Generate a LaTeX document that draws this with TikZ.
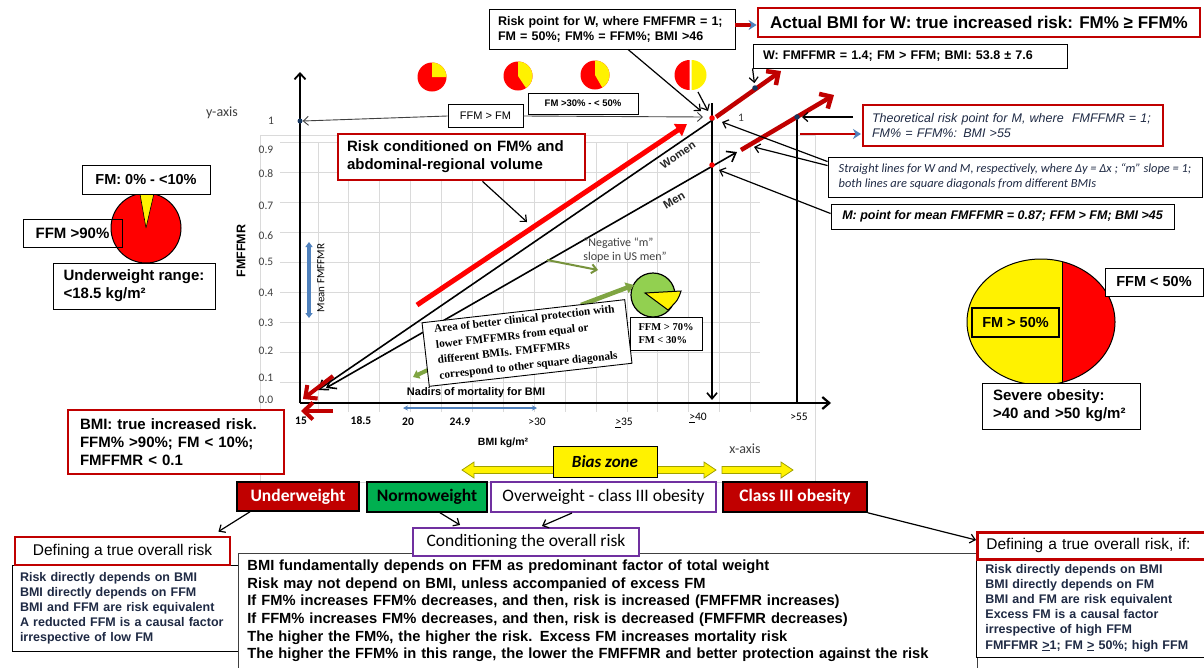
\documentclass[tikz,border=0pt]{standalone}
\usepackage{fontspec}
\setmainfont{Liberation Sans}
\newfontfamily\calib{Carlito}
\newfontfamily\tms{Liberation Serif}
\usetikzlibrary{arrows.meta}
\definecolor{dred}{HTML}{C00000}
\definecolor{purp}{HTML}{7030A0}
\definecolor{ngreen}{HTML}{00B050}
\definecolor{lgreen}{HTML}{92D050}
\definecolor{sblue}{HTML}{4F81BD}
\definecolor{gridc}{HTML}{DADADA}
\definecolor{navy}{HTML}{1F2A44}
\definecolor{ogreen}{HTML}{77933C}
\definecolor{dotb}{HTML}{17375E}
\definecolor{byel}{HTML}{A0A000}
\definecolor{axl}{HTML}{404040}
\newcommand{\fsz}[2]{\fontsize{#1}{#2}\selectfont}
\begin{document}
\begin{tikzpicture}[x=1pt,y=1pt,
  box/.style={draw=black, line width=0.9pt, fill=white, inner sep=0pt, align=left},
  rbox/.style={box, draw=dred, line width=2.8pt},
  pbox/.style={box, draw=purp, line width=2pt},
  cat/.style={draw=black, line width=1.5pt, inner sep=0pt, font=\calib\bfseries\fsz{17.5}{20}},
  conn/.style={draw=black, line width=1.2pt, -{Straight Barb[length=5pt,width=9pt]}},
  gconn/.style={draw=axl, line width=0.9pt, -{Straight Barb[length=5pt,width=9pt]}},
  dotn/.style={circle, inner sep=0pt, minimum size=5.5pt},
  redarr/.style={draw=dred, line width=4.5pt, -{Straight Barb[length=9pt,width=17pt]}},
  blkarr/.style={draw=black, line width=1.6pt},
  rbarr/.style={draw=dred, line width=3.5pt, -{Stealth[length=8pt,width=10pt,color=sblue]}},
  lab/.style={inner sep=0pt, font=\calib\fsz{11.5}{13}, text=axl},
  blab/.style={inner sep=0pt, font=\calib\bfseries\fsz{11.5}{13}, text=black},
]
\fill[white] (0,0) rectangle (1204,-667);
\useasboundingbox (0,0) rectangle (1204,-667);

% chart frame and grid
\draw[gridc, line width=0.8pt] (260,-135) rectangle (815,-482);
\foreach \yy in {142,172,...,382} \draw[gridc, line width=0.8pt] (280,-\yy) -- (760,-\yy);
\foreach \k in {1,...,15} \draw[gridc, line width=0.8pt] ({287+30.9*\k},-142) -- ({287+30.9*\k},-412);

% axis labels
\foreach \yy/\t [count=\i] in {150/0.9,174/0.8,206/0.7,236/0.6,262/0.5,293/0.4,323/0.3,351/0.2,378/0.1,400/0.0}
  \node[lab] (yl\i) at (266,-\yy) {\t};
\node[lab] (yone) at (271,-121) {1};
\node[lab, font=\calib\fsz{14}{16}] (yax) at (222,-113) {y-axis};
\node[lab, font=\calib\fsz{14}{16}] (xax) at (745,-449) {x-axis};
\node[inner sep=0pt, rotate=90, font=\bfseries\fsz{12.5}{14}] (fmlab) at (241,-251) {FMFFMR};
\node[blab] (x15) at (301,-421) {15};
\node[blab] (x185) at (361,-421) {18.5};
\node[blab] (x20) at (408,-422) {20};
\node[blab] (x249) at (460,-422) {24.9};
\node[lab, text=black] (x30) at (537,-422) {>30};
\node[lab, text=black] (x35) at (624,-423) {\underline{>}35};
\node[lab, text=black] (x40) at (698,-418) {\underline{>}40};
\node[lab, text=black] (x55) at (799,-417) {>55};
\node[inner sep=0pt, font=\bfseries\fsz{10.5}{12}] (bmil) at (503,-443) {BMI kg/m²};

% axes
\coordinate (O) at (300,-403);
\coordinate (Ytip) at (300,-72);
\coordinate (Xtip) at (831,-403);
\draw[line width=1.8pt, -{Straight Barb[length=6pt,width=11pt]}] (O) -- (Ytip);
\draw[line width=2.2pt, -{Straight Barb[length=7pt,width=12pt]}] (O) -- (Xtip);

% vertical lines
\coordinate (v1a) at (712,-103); \coordinate (v1b) at (712,-400);
\coordinate (v2a) at (797,-117); \coordinate (v2b) at (797,-402);
\draw[blkarr, -{Straight Barb[length=6pt,width=10pt]}] (v1a) -- (v1b);
\draw[blkarr] (v2a) -- (v2b);

% women and men lines
\coordinate (wTop) at (714,-119); \coordinate (wEnd) at (318,-390);
\coordinate (mTop) at (737,-152); \coordinate (mEnd) at (326,-388);
\draw[blkarr, -{Straight Barb[length=8pt,width=12pt]}] (wTop) -- (wEnd);
\draw[blkarr, {Straight Barb[length=8pt,width=12pt]}-{Straight Barb[length=8pt,width=12pt]}] (mTop) -- (mEnd);

% red arrows
\coordinate (wr0) at (716,-117); \coordinate (wr1) at (781,-71);
\coordinate (mr0) at (741,-150); \coordinate (mr1) at (834,-95);
\draw[redarr] (wr0) -- (wr1);
\draw[redarr] (mr0) -- (mr1);
\coordinate (oa1) at (333,-376); \coordinate (oa2) at (303,-399);
\coordinate (ob1) at (333,-411); \coordinate (ob2) at (301,-411);
\draw[redarr, line width=4pt] (oa1) -- (oa2);
\draw[redarr, line width=4pt] (ob1) -- (ob2);
\coordinate (sA) at (417,-305); \coordinate (sB) at (687,-124);
\draw[draw=red, line width=5pt, -{Triangle[length=11pt,width=14pt]}] (sA) -- (sB);

% dots
\node[dotn, fill=red] (Wpt) at (712,-118) {};
\node[dotn, fill=red] (Mpt) at (712,-165) {};
\node[dotn, fill=dotb] (Wdot) at (755,-88) {};
\node[dotn, fill=dotb] (Mdot) at (797,-117) {};
\node[dotn, fill=dotb, minimum size=5pt] (Ydot) at (300,-121) {};
\node[lab] (wone) at (741,-118) {1};
\node[inner sep=0pt, rotate=34, font=\bfseries\fsz{11}{12}, text=black!85] (women) at (678,-155) {Women};
\node[inner sep=0pt, rotate=30, font=\bfseries\fsz{11.5}{12}, text=black!85] (men) at (674,-200) {Men};

% top pies
\fill[red] (432,-77) circle[radius=14.5];
\fill[yellow] (432,-77) -- ++(0,14.5) arc[start angle=90,end angle=0,radius=14.5] -- cycle;
\fill[red] (518,-76) circle[radius=14.5];
\fill[yellow] (518,-76) -- ++(0,14.5) arc[start angle=90,end angle=-56,radius=14.5] -- cycle;
\fill[red] (595,-75) circle[radius=14.5];
\fill[yellow] (595,-75) -- ++(0,14.5) arc[start angle=90,end angle=-60,radius=14.5] -- cycle;
\fill[red] (689.5,-75) -- ++(0,15) arc[start angle=90,end angle=270,radius=15] -- cycle;
\fill[yellow] (691.5,-75) -- ++(0,15) arc[start angle=90,end angle=-90,radius=15] -- cycle;
\coordinate (p4) at (698,-92);

% FFM > FM
\node[box, minimum width=75pt, minimum height=23pt, font=\fsz{11}{13}] (ffmfm) at (485.5,-116) {FFM > FM};
\coordinate (ffR) at (703,-117);
\draw[gconn] (ffmfm.west) -- (Ydot.east);
\draw[gconn] (ffmfm.east) -- (ffR);
\node[box, minimum width=110pt, minimum height=21pt, font=\bfseries\fsz{9.5}{11}] (fm3050) at (583,-103.5) {FM >30\% - < 50\%};

% top boxes
\node[box, minimum width=246pt, minimum height=40pt, text width=228pt, font=\bfseries\fsz{12.5}{15}] (riskW) at (612,-29) {Risk point for W, where FMFFMR = 1;\\FM = 50\%; FM\% = FFM\%; BMI >46};
\node[rbox, minimum width=442pt, minimum height=29pt, font=\bfseries\fsz{17}{20}] (actW) at (979,-22.5) {Actual BMI for W: true increased risk: FM\% ≥ FFM\%};
\node[box, minimum width=314pt, minimum height=24pt, text width=294pt, font=\bfseries\fsz{12.5}{15}] (wB) at (910,-56) {W: FMFFMR = 1.4; FM > FFM; BMI: 53.8 ± 7.6};
\node[rbox, minimum width=300pt, minimum height=41pt, text width=282pt, font=\itshape\fsz{12.5}{15}, text=navy] (theoM) at (1013,-125.5) {Theoretical risk point for M, where\ \ FMFFMR = 1;\\FM\% = FFM\%: BMI >55};
\node[box, minimum width=374pt, minimum height=40pt, font=\calib\itshape\fsz{12.4}{15}, text=navy] (strl) at (1015,-177) {Straight lines for W and M, respectively, where Δy = Δx ; “m” slope = 1;\\both lines are square diagonals from different BMIs};
\node[box, minimum width=343pt, minimum height=25pt, font=\bfseries\itshape\fsz{12.5}{15}] (mB) at (1002.5,-216.5) {M: point for mean FMFFMR = 0.87; FFM > FM; BMI >45};

% top connectors
\coordinate (wIn1) at (701,-111);
\coordinate (wIn2) at (708,-111);
\draw[conn] ([xshift=16pt]riskW.south) -- (wIn1);
\draw[conn] (p4) -- (wIn2);
\draw[rbarr] ([yshift=4pt]riskW.east) -- ([yshift=-2.5pt]actW.west);
\draw[conn, shorten >=2pt] (wB.south west) -- (Wdot);
\coordinate (tmS) at (853,-117);
\draw[conn, shorten >=2pt] (tmS) -- (Mdot);
\coordinate (rb1) at (800,-134); \coordinate (rb2) at (861,-134);
\draw[rbarr, line width=2.5pt] (rb1) -- (rb2);
\coordinate (s1) at (722,-122); \coordinate (s2) at (754,-147);
\draw[conn] ([yshift=-5pt]strl.north west) -- (s1);
\draw[conn] ([yshift=-9pt]strl.north west) -- (s2);
\coordinate (mIn) at (719,-170);
\draw[conn] ([yshift=3pt]mB.west) -- (mIn);

% risk conditioned
\node[rbox, minimum width=247pt, minimum height=46pt, text width=229pt, font=\bfseries\fsz{15}{18}] (riskC) at (461.5,-157) {Risk conditioned on FM\% and\\abdominal-regional volume};
\coordinate (rcT) at (527,-222);
\draw[conn] ([xshift=21pt]riskC.south) -- (rcT);

% left pie and boxes
\fill[red] (146,-228) circle[radius=35];
\fill[yellow] (146,-228) -- ++(77:35) arc[start angle=77,end angle=100,radius=35] -- cycle;
\draw[line width=0.6pt] (146,-228) -- ++(77:35) (146,-228) -- ++(100:35);
\draw[line width=1pt] (146,-228) circle[radius=35];
\node[box, minimum width=128pt, minimum height=29pt, font=\bfseries\fsz{14.5}{16}] (fm010) at (146,-179.5) {FM: 0\% - <10\%};
\node[box, fill=none, minimum width=99pt, minimum height=28pt, font=\bfseries\fsz{15}{17}] (ffm90) at (72.5,-233) {FFM >90\%};
\node[box, minimum width=162pt, minimum height=46pt, font=\bfseries\fsz{15}{18}] (uRange) at (134,-286) {Underweight range:\\<18.5 kg/m²};
\node[rbox, minimum width=216pt, minimum height=64pt, text width=192pt, font=\bfseries\fsz{15}{18}] (bmiR) at (176,-442) {BMI: true increased risk.\\FFM\% >90\%; FM < 10\%;\\FMFFMR < 0.1};

% blue arrows
\coordinate (nb1) at (403,-408); \coordinate (nb2) at (537,-408);
\draw[sblue, line width=1.2pt, {Stealth[length=5pt,width=5pt]}-{Stealth[length=5pt,width=5pt]}] (nb1) -- (nb2);
\coordinate (mb1) at (309,-242); \coordinate (mb2) at (309,-318);
\draw[sblue, line width=3.5pt, {Triangle[length=5pt,width=7pt]}-{Triangle[length=5pt,width=7pt]}] (mb1) -- (mb2);
\node[inner sep=0pt, rotate=90, font=\calib\fsz{11}{12}] (meanl) at (321,-278) {Mean FMFFMR};
\node[inner sep=0pt, font=\bfseries\fsz{11}{12}] (nadir) at (476,-393) {Nadirs of mortality for BMI};

% green pie and arrows
\fill[lgreen] (653,-295) circle[radius=22];
\draw[line width=1.2pt] (653,-295) circle[radius=22];
\filldraw[fill=yellow, draw=black, line width=1pt] (645,-293) -- (681,-291) .. controls (678,-300) .. (668,-310) -- cycle;
\coordinate (gn1) at (547,-260); \coordinate (gn2) at (598,-270);
\draw[ogreen, line width=2pt, -{Straight Barb[length=5pt,width=9pt]}] (gn1) -- (gn2);
\coordinate (ga1) at (581,-305); \coordinate (ga2) at (634,-285);
\draw[ogreen!70!lgreen, line width=4.5pt, -{Triangle[length=8pt,width=11pt]}] (ga1) -- (ga2);
\coordinate (gs1) at (432,-368); \coordinate (gs2) at (413,-377);
\draw[ogreen!70!lgreen, line width=4pt, -{Triangle[length=6pt,width=9pt]}] (gs1) -- (gs2);
\node[box, rotate=6.5, minimum width=204pt, minimum height=64pt, font=\tms\bfseries\fsz{11.3}{15.5}] (area) at (527,-343) {Area of better clinical protection with\\lower FMFFMRs from equal or\\different BMIs. FMFFMRs\\correspond to other square diagonals};
\node[box, minimum width=72pt, minimum height=33pt, font=\tms\bfseries\fsz{10.5}{13}] (ffm70) at (666,-333.5) {FFM > 70\%\\FM < 30\%};
\node[inner sep=0pt, align=left, font=\calib\fsz{12}{14}, text=axl] (negm) at (625,-250) {“Negative “m”\\slope in US men”};

% right big pie
\fill[yellow] (1041,-322) ellipse[x radius=74, y radius=63];
\begin{scope}
\clip (1062,-250) rectangle (1130,-400);
\fill[red] (1041,-322) ellipse[x radius=74, y radius=63];
\end{scope}
\draw[line width=1pt] (1041,-322) ellipse[x radius=74, y radius=63];
\draw[line width=1pt] (1062,-261.6) -- (1062,-382.4);
\node[box, minimum width=98pt, minimum height=28pt, font=\bfseries\fsz{14.5}{16}] (ffm50) at (1154,-282) {FFM < 50\%};
\node[box, fill=none, line width=2.5pt, minimum width=87pt, minimum height=29pt, font=\bfseries\fsz{14.5}{16}] (fm50) at (1015.5,-322.5) {FM > 50\%};
\node[box, minimum width=158pt, minimum height=46pt, text width=136pt, font=\bfseries\fsz{15}{18}] (sev) at (1061,-406) {Severe obesity:\\>40 and >50 kg/m²};

% bias zone
\filldraw[fill=yellow, draw=byel, line width=0.8pt] (462,-470) -- (474,-462) -- (474,-466.5) -- (704,-466.5) -- (704,-462) -- (716,-470) -- (704,-478) -- (704,-473.5) -- (474,-473.5) -- (474,-478) -- cycle;
\filldraw[fill=yellow, draw=byel, line width=0.8pt] (722,-466.5) -- (781,-466.5) -- (781,-462) -- (793,-470) -- (781,-478) -- (781,-473.5) -- (722,-473.5) -- cycle;
\node[draw=black, line width=1pt, fill=yellow, minimum width=104pt, minimum height=31pt, inner sep=0pt, font=\calib\bfseries\itshape\fsz{17}{19}] (bias) at (605,-461.5) {Bias zone};

% categories
\node[cat, fill=dred, text=white, minimum width=122pt, minimum height=29pt] (under) at (298,-496.5) {Underweight};
\node[cat, fill=ngreen, minimum width=120pt, minimum height=30pt] (normo) at (427,-497) {Normoweight};
\node[cat, draw=purp, line width=2pt, fill=white, font=\calib\fsz{17.5}{20}, minimum width=225pt, minimum height=30pt] (over) at (603.5,-497) {Overweight - class III obesity};
\node[cat, fill=dred, text=white, minimum width=144pt, minimum height=30pt] (cl3) at (795,-497) {Class III obesity};

% bottom boxes
\node[box, line width=0.8pt, minimum width=226pt, minimum height=86pt, text width=210pt, font=\bfseries\fsz{12.5}{15}, text=navy] (listL) at (125,-608) {Risk directly depends on BMI\\BMI directly depends on FFM\\BMI and FFM are risk equivalent\\A reducted FFM is a causal factor\\irrespective of low FM};
\node[rbox, minimum width=215pt, minimum height=28pt, font=\fsz{15.5}{18}] (defL) at (122.5,-551) {Defining a true overall risk};
\node[box, draw=axl, line width=0.8pt, anchor=north west, minimum width=739pt, minimum height=115pt, text width=721pt, font=\bfseries\fsz{14.7}{17.6}] (bigT) at (238,-553) {BMI fundamentally depends on FFM as predominant factor of total weight\\Risk may not depend on BMI, unless accompanied of excess FM\\If FM\% increases FFM\% decreases, and then, risk is increased (FMFFMR increases)\\If FFM\% increases FM\% decreases, and then, risk is decreased (FMFFMR decreases)\\The higher the FM\%, the higher the risk. Excess FM increases mortality risk\\The higher the FFM\% in this range, the lower the FMFFMR and better protection against the risk};
\node[pbox, minimum width=226pt, minimum height=28pt, font=\calib\fsz{17.5}{20}] (cond) at (526,-542) {Conditioning the overall risk};
\node[box, line width=0.8pt, anchor=north west, minimum width=240pt, minimum height=99pt, text width=222pt, font=\bfseries\fsz{12.5}{15.2}, text=navy] (listR) at (976,-558) {Risk directly depends on BMI\\BMI directly depends on FM\\BMI and FM are risk equivalent\\Excess FM is a causal factor\\irrespective of high FFM\\FMFFMR \underline{>}1; FM \underline{>} 50\%; high FFM};
\node[rbox, anchor=north west, minimum width=240pt, minimum height=27pt, text width=222pt, font=\fsz{15.5}{18}] (defR) at (976,-531) {Defining a true overall risk, if:};

% bottom connectors
\draw[conn] ([xshift=-48pt]under.south) -- ([xshift=-13pt,yshift=4pt]defL.north east);
\draw[conn] ([xshift=13pt]normo.south) -- ([xshift=-66pt,yshift=2pt]cond.north);
\draw[conn] ([xshift=-31.5pt]over.south) -- ([xshift=16pt,yshift=1pt]cond.north);
\draw[conn] (cl3.south east) -- ([yshift=-9pt]defR.north west);
\end{tikzpicture}
\end{document}
